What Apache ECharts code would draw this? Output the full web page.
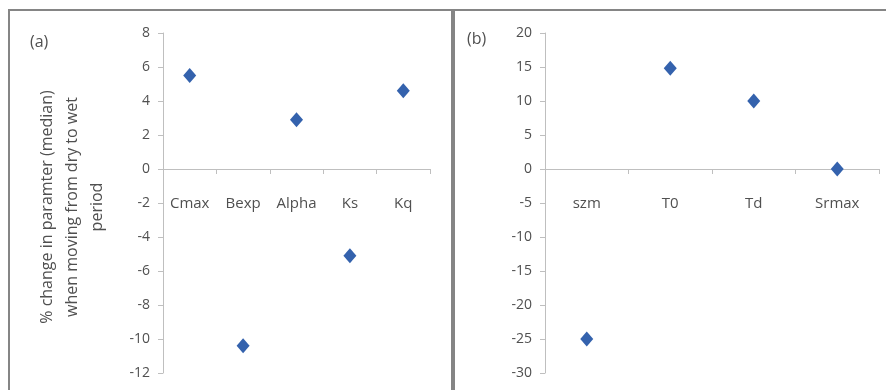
<!DOCTYPE html>
<html>
<head>
<meta charset="utf-8">
<script src="https://cdn.jsdelivr.net/npm/echarts@6/dist/echarts.min.js"></script>
<style>
  html, body { margin: 0; padding: 0; background: #fff; }
  #chart { width: 886px; height: 390px; }
</style>
</head>
<body>
<div id="chart"></div>
<script>
// panel (a)
var catsA = ['Cmax', 'Bexp', 'Alpha', 'Ks', 'Kq'];
var valsA = [5.5, -10.4, 2.9, -5.1, 4.6];
// panel (b)
var catsB = ['szm', 'T0', 'Td', 'Srmax'];
var valsB = [-25, 14.8, 10, 0];

var yTitle = '% change in paramter (median)\nwhen moving from dry to wet\nperiod';

var txt = '#505050';
var axisCol = '#bfbfbf';
var dot = '#3462ad';
var font = 'Open Sans';

// x axis is moved up from the grid bottom to the zero line (0 sits 8/20 and 20/50 down both grids)
function xAxisFor(idx, cats, shift) {
  return {
    type: 'category', gridIndex: idx, data: cats, position: 'bottom', offset: shift,
    axisLine: { onZero: false, lineStyle: { color: axisCol, width: 1 } },
    axisTick: { show: true, alignWithLabel: false, inside: false, length: 5, lineStyle: { color: axisCol } },
    axisLabel: { color: txt, fontFamily: font, fontSize: 15, margin: 27 },
    splitLine: { show: false }
  };
}
function yAxisFor(idx, min, max, step) {
  return {
    type: 'value', gridIndex: idx, min: min, max: max, interval: step,
    axisLine: { show: true, lineStyle: { color: axisCol, width: 1 } },
    axisTick: { show: true, length: 5, lineStyle: { color: axisCol } },
    axisLabel: { color: txt, fontFamily: font, fontSize: 14, margin: 13 },
    splitLine: { show: false }
  };
}

var chart = echarts.init(document.getElementById('chart'));
chart.setOption({
  backgroundColor: '#fff',
  animation: false,
  grid: [
    { left: 163, top: 33, width: 267, height: 340, outerBoundsMode: 'none', containLabel: false },
    { left: 545, top: 33, width: 334, height: 340, outerBoundsMode: 'none', containLabel: false }
  ],
  xAxis: [xAxisFor(0, catsA, -204), xAxisFor(1, catsB, -204)],
  yAxis: [yAxisFor(0, -12, 8, 2), yAxisFor(1, -30, 20, 5)],
  series: [
    { type: 'scatter', xAxisIndex: 0, yAxisIndex: 0, data: valsA,
      symbol: 'diamond', symbolSize: [13, 15], itemStyle: { color: dot, opacity: 1 } },
    { type: 'scatter', xAxisIndex: 1, yAxisIndex: 1, data: valsB,
      symbol: 'diamond', symbolSize: [13, 15], itemStyle: { color: dot, opacity: 1 } }
  ],
  graphic: [
    // panel frames
    { type: 'rect', shape: { x: 9, y: 10, width: 443, height: 400 },
      style: { fill: null, stroke: '#858585', lineWidth: 2 } },
    { type: 'rect', shape: { x: 454, y: 10, width: 440, height: 400 },
      style: { fill: null, stroke: '#858585', lineWidth: 2 } },
    { type: 'text', x: 30, y: 42, style: { text: '(a)', fill: txt, font: '16px "Open Sans"', textVerticalAlign: 'middle' } },
    { type: 'text', x: 467, y: 39, style: { text: '(b)', fill: txt, font: '16px "Open Sans"', textVerticalAlign: 'middle' } },
    { type: 'text', x: 72, y: 207, rotation: Math.PI / 2,
      style: { text: yTitle, fill: txt, font: '16px "Open Sans"', textAlign: 'center', textVerticalAlign: 'middle', lineHeight: 25 } }
  ]
});
</script>
</body>
</html>
